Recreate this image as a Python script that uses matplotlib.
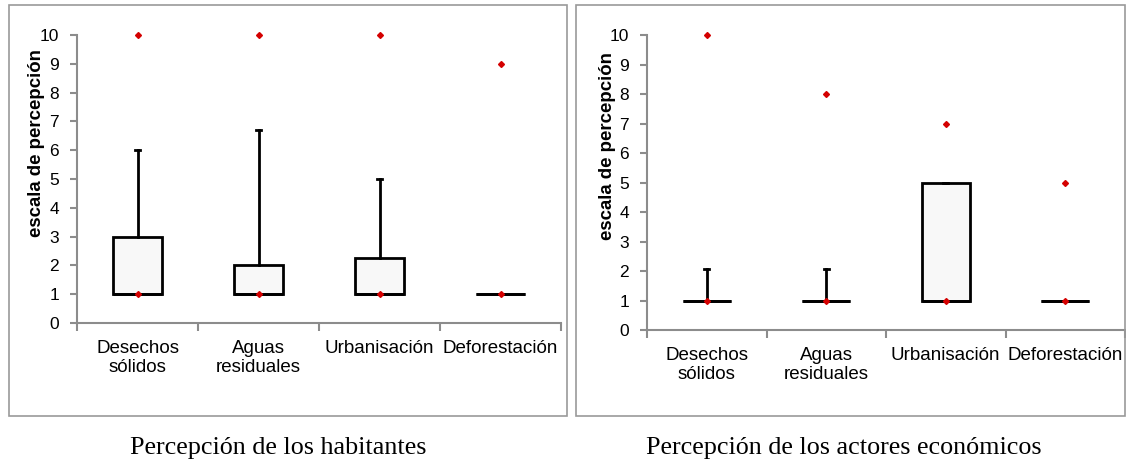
import matplotlib
matplotlib.use("Agg")
import matplotlib.pyplot as plt
from matplotlib.patches import Rectangle

# categories shared by both panels
categories = ["Desechos\nsólidos", "Aguas\nresiduales", "Urbanisación", "Deforestación"]

# habitantes (left panel)
hab_q1 = [1, 1, 1, 1]
hab_q3 = [3, 2, 2.25, 1]
hab_whishi = [6, 6.7, 5, 1]
hab_median = [1, 1, 1, 1]
hab_outlier = [10, 10, 10, 9]

# actores economicos (right panel)
act_q1 = [1, 1, 1, 1]
act_q3 = [1, 1, 5, 1]
act_whishi = [2.08, 2.08, 5, 1]
act_median = [1, 1, 1, 1]
act_outlier = [10, 8, 7, 5]

titles = ["Percepción de los habitantes", "Percepción de los actores económicos"]
ylabel = "escala de percepción"

plt.rcParams['font.family'] = ['Liberation Sans', 'DejaVu Sans']

fig = plt.figure(figsize=(11.26, 4.61), dpi=100)

# panel frames (pixel coords converted to figure fraction)
W, H = 1126, 461
for (x0, x1) in [(9, 567), (576, 1125)]:
    fig.patches.append(Rectangle((x0 / W, 1 - 416 / H), (x1 - x0) / W, (416 - 5) / H,
                                 transform=fig.transFigure, fill=False,
                                 edgecolor='#9a9a9a', linewidth=1.2))

axes_pos = [[77 / W, 1 - 323 / H, (561 - 77) / W, (323 - 35) / H],
            [647 / W, 1 - 330 / H, (1125 - 647) / W, (330 - 35) / H]]
title_x = [278 / W, 844 / W]

panels = [(hab_q1, hab_q3, hab_whishi, hab_median, hab_outlier),
          (act_q1, act_q3, act_whishi, act_median, act_outlier)]

for pos, (q1, q3, whi, med, out), title, tx in zip(axes_pos, panels, titles, title_x):
    ax = fig.add_axes(pos)
    stats = []
    for i in range(len(categories)):
        stats.append({'med': med[i], 'q1': q1[i], 'q3': q3[i],
                      'whislo': q1[i], 'whishi': whi[i], 'fliers': []})
    xs = [i + 0.5 for i in range(len(categories))]
    ax.bxp(stats, positions=xs, widths=0.4, patch_artist=True, showfliers=False,
           boxprops=dict(facecolor='#f8f8f8', edgecolor='black', linewidth=2),
           whiskerprops=dict(color='black', linewidth=2),
           capprops=dict(color='black', linewidth=2),
           medianprops=dict(color='black', linewidth=2),
           capwidths=0.04, manage_ticks=False)
    ax.plot(xs, med, linestyle='none', marker='D', markersize=3,
            color='#d40000', clip_on=False, zorder=5)
    ax.plot(xs, out, linestyle='none', marker='D', markersize=3,
            color='#d40000', clip_on=False, zorder=5)

    ax.set_xlim(0, len(categories))
    ax.set_ylim(0, 10)
    ax.set_yticks(range(0, 11))
    ax.set_xticks(range(0, len(categories) + 1))
    ax.set_xticklabels([])
    ax.set_xticks(xs, minor=True)
    ax.set_xticklabels(categories, minor=True, fontsize=13.5, linespacing=1.2)
    ax.tick_params(axis='x', which='minor', length=0, pad=12)
    ax.tick_params(axis='x', which='major', length=6, color='#8c8c8c', width=1.5)
    ax.tick_params(axis='y', length=5, color='#8c8c8c', width=1.5, labelsize=12.5, pad=8)
    for s in ['top', 'right']:
        ax.spines[s].set_visible(False)
    for s in ['left', 'bottom']:
        ax.spines[s].set_color('#8c8c8c')
        ax.spines[s].set_linewidth(1.5)
    ax.set_ylabel(ylabel, fontsize=13.4, fontweight='bold', va='center')
    # label sits high on the axis, close to the tick labels
    ax.yaxis.set_label_coords(-40 / (pos[2] * W), 0.625)

    fig.text(tx, 1 - 454 / H, title, ha='center', va='baseline',
             fontsize=18.8, family=['Liberation Serif', 'DejaVu Serif'])

fig.savefig("out.png", dpi=100)
